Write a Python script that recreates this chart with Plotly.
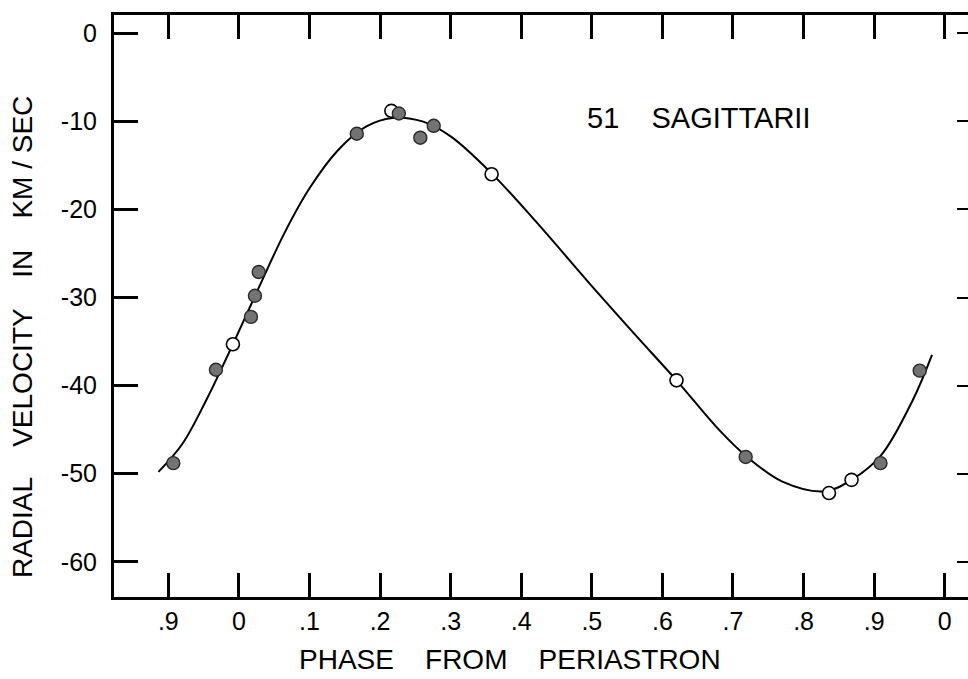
import plotly.graph_objects as go

filled_phase = [-0.093, -0.0326, 0.017, 0.0227, 0.028, 0.167, 0.2266, 0.257, 0.276, 0.718, 0.909, 0.9646]
filled_vel = [-48.8, -38.2, -32.2, -29.8, -27.1, -11.4, -9.1, -11.85, -10.5, -48.1, -48.8, -38.3]

open_phase = [-0.0085, 0.216, 0.358, 0.620, 0.836, 0.868]
open_vel = [-35.3, -8.8, -16.0, -39.4, -52.2, -50.7]

# Velocity curve
curve_phase = [-0.114, -0.08, -0.046, -0.0085, 0.028, 0.065, 0.10, 0.14, 0.18, 0.22, 0.26,
               0.30, 0.358, 0.42, 0.50, 0.56, 0.62, 0.68, 0.72, 0.77, 0.83, 0.87, 0.91,
               0.955, 0.982]
curve_vel = [-49.8, -46.6, -41.6, -35.3, -28.9, -22.6, -17.6, -13.3, -10.6, -9.6, -10.0,
             -11.7, -15.9, -21.3, -28.7, -34.1, -39.4, -45.0, -48.1, -50.9, -52.0, -50.6, -47.9,
             -41.6, -36.5]

x_tickvals = [-0.1, 0.0, 0.1, 0.2, 0.3, 0.4, 0.5, 0.6, 0.7, 0.8, 0.9, 1.0]
x_ticktext = [".9", "0", ".1", ".2", ".3", ".4", ".5", ".6", ".7", ".8", ".9", "0"]
y_tickvals = [0, -10, -20, -30, -40, -50, -60]
y_ticktext = ["0", "-10", "-20", "-30", "-40", "-50", "-60"]

FONT = "Liberation Sans"

fig = go.Figure()
fig.add_trace(go.Scatter(x=curve_phase, y=curve_vel, mode="lines",
                         line=dict(color="black", width=2, shape="spline", smoothing=1.0),
                         hoverinfo="skip", showlegend=False))
fig.add_trace(go.Scatter(x=open_phase, y=open_vel, mode="markers",
                         marker=dict(size=13, color="white", line=dict(color="black", width=1.6)),
                         showlegend=False))
fig.add_trace(go.Scatter(x=filled_phase, y=filled_vel, mode="markers",
                         marker=dict(size=13, color="#737373", line=dict(color="#2a2a2a", width=1.4)),
                         showlegend=False))
# invisible trace so the right-hand tick marks are drawn
fig.add_trace(go.Scatter(x=[None], y=[None], yaxis="y2", showlegend=False))

fig.update_layout(
    width=968, height=679,
    margin=dict(l=114, r=0, t=15, b=82),
    paper_bgcolor="white", plot_bgcolor="white",
    font=dict(family=FONT, color="black", size=25),
    xaxis=dict(range=[-0.177, 1.033], tickvals=x_tickvals, ticktext=x_ticktext,
               ticks="inside", ticklen=24, tickwidth=2.5, tickcolor="black",
               showline=True, linewidth=3, linecolor="black", mirror="ticks",
               showgrid=False, zeroline=False, tickfont=dict(size=25, family=FONT),
               ticklabelstandoff=0),
    yaxis=dict(range=[-64.0, 2.08], tickvals=y_tickvals, ticktext=y_ticktext,
               ticks="inside", ticklen=24, tickwidth=2.5, tickcolor="black",
               showline=True, linewidth=3, linecolor="black", mirror=False,
               showgrid=False, zeroline=False, tickfont=dict(size=25, family=FONT),
               ticklabelstandoff=9),
    yaxis2=dict(range=[-64.0, 2.08], overlaying="y", side="right", tickvals=y_tickvals,
                ticks="inside", ticklen=11, tickwidth=2, tickcolor="black",
                showticklabels=False, showline=False, showgrid=False, zeroline=False),
    annotations=[
        dict(text="RADIAL    VELOCITY    IN    KM / SEC", xref="paper", yref="paper",
             x=-0.1077, y=0.4467, xanchor="center", yanchor="middle", textangle=-90,
             showarrow=False, font=dict(size=28, family=FONT)),
        dict(text="PHASE    FROM    PERIASTRON", xref="paper", yref="paper",
             x=0.4637, y=-0.1082, xanchor="center", yanchor="middle",
             showarrow=False, font=dict(size=28, family=FONT)),
        dict(text="51    SAGITTARII", xref="x", yref="y", x=0.49, y=-9.6,
             xanchor="left", yanchor="middle", showarrow=False,
             font=dict(size=29, family=FONT)),
    ],
)

# remove the page's default body margin and scrollbars so the figure fills the window
fig.write_html("out.html",
               config={"displayModeBar": False},
               post_script="document.body.style.margin='0';"
                           "document.documentElement.style.overflow='hidden';"
                           "document.body.style.overflow='hidden';")
